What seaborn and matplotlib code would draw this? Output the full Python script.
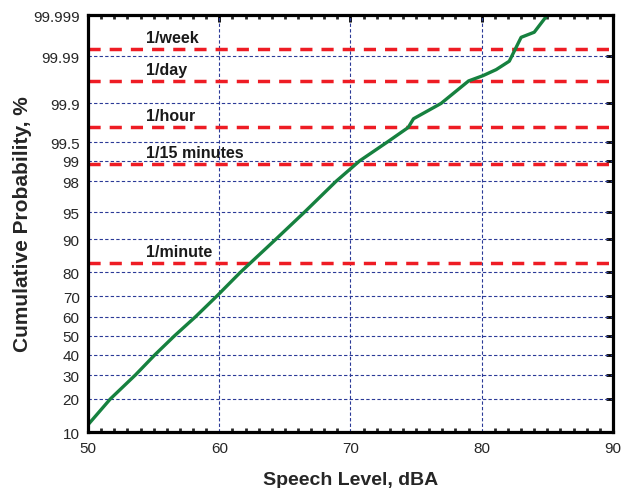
import numpy as np
import matplotlib
matplotlib.use('Agg')
import matplotlib.pyplot as plt
import seaborn as sns
from statistics import NormalDist
from matplotlib.ticker import FixedLocator, MultipleLocator, FixedFormatter

# Cumulative distribution of speech level
level_dba = [50.0, 51.7, 53.6, 55.1, 56.6, 58.2, 59.8, 61.6, 64.3, 66.5,
             68.9, 70.7, 72.8, 74.4, 74.8, 76.9, 79.0, 80.1, 81.1, 82.1,
             83.0, 84.0, 84.9, 85.2]
cum_prob = [11.8, 20.0, 30.0, 40.0, 50.0, 60.0, 70.0, 80.0, 90.0, 95.0,
            98.0, 99.0, 99.5, 99.72, 99.805, 99.9, 99.965, 99.973, 99.98,
            99.987, 99.9964, 99.9973, 99.9989, 99.9992]

# Exceedance rates (red dashed lines)
rate_labels = ['1/minute', '1/15 minutes', '1/hour', '1/day', '1/week']
rate_levels = [83.33, 98.89, 99.722, 99.9653, 99.9931]

y_ticks = [10, 20, 30, 40, 50, 60, 70, 80, 90, 95, 98, 99, 99.5, 99.9, 99.99, 99.999]
y_tick_labels = ['10', '20', '30', '40', '50', '60', '70', '80', '90', '95',
                 '98', '99', '99.5', '99.9', '99.99', '99.999']

sns.set_style('white')
plt.rcParams['font.family'] = ['Liberation Sans', 'DejaVu Sans']

# normal probability scale for the y axis
_nd = NormalDist()
_ppf = np.vectorize(lambda p: _nd.inv_cdf(min(max(p / 100.0, 1e-12), 1 - 1e-12)), otypes=[float])
_cdf = np.vectorize(lambda z: 100.0 * _nd.cdf(z), otypes=[float])


def forward(p):
    return _ppf(np.asarray(p, dtype=float))


def inverse(z):
    return _cdf(np.asarray(z, dtype=float))


fig = plt.figure(figsize=(6.26, 4.89), dpi=100)
ax = fig.add_axes([0.1406, 0.1145, 0.8386, 0.8525])
ax.set_yscale('function', functions=(forward, inverse))

grid_color = '#2b3a97'
for yv in y_ticks:
    ax.axhline(yv, color=grid_color, lw=0.8, ls=(0, (3, 2)), zorder=1)
for xv in [60, 70, 80]:
    ax.axvline(xv, color=grid_color, lw=0.8, ls=(0, (3, 2)), zorder=1)

for lab, lev in zip(rate_labels, rate_levels):
    ax.axhline(lev, color='#ee1c24', lw=2.5, ls=(0, (3.5, 2.6)), zorder=2)
    ax.annotate(lab, xy=(54.4, lev), xytext=(0, 3), textcoords='offset points',
                ha='left', va='bottom', fontsize=11.5, fontweight='bold', color='#1a1a1a')

sns.lineplot(x=level_dba, y=cum_prob, ax=ax, color='#16813f', lw=2.4, zorder=3,
             estimator=None, sort=False)

ax.set_xlim(50, 90)
ax.set_ylim(10, 99.999)
ax.xaxis.set_major_locator(MultipleLocator(10))
ax.xaxis.set_minor_locator(MultipleLocator(1))
ax.yaxis.set_major_locator(FixedLocator(y_ticks))
ax.yaxis.set_major_formatter(FixedFormatter(y_tick_labels))
ax.yaxis.set_minor_locator(FixedLocator([]))

ax.tick_params(axis='both', which='major', direction='in', length=5, width=2,
               top=True, right=True, labelsize=11, color='black', pad=6)
ax.tick_params(axis='x', which='major', pad=6.5)
ax.tick_params(axis='x', which='minor', direction='in', length=3, width=2,
               top=True, bottom=True)
for sp in ax.spines.values():
    sp.set_linewidth(2.3)
    sp.set_color('black')
    sp.set_zorder(5)

ax.set_xlabel('Speech Level, dBA', fontsize=14, fontweight='bold', va='center')
ax.set_ylabel('Cumulative Probability, %', fontsize=15, fontweight='bold', va='center')
ax.xaxis.set_label_coords(0.5, -0.113)
ax.yaxis.set_label_coords(-0.124, 0.5)

fig.savefig('out.png', dpi=100)
